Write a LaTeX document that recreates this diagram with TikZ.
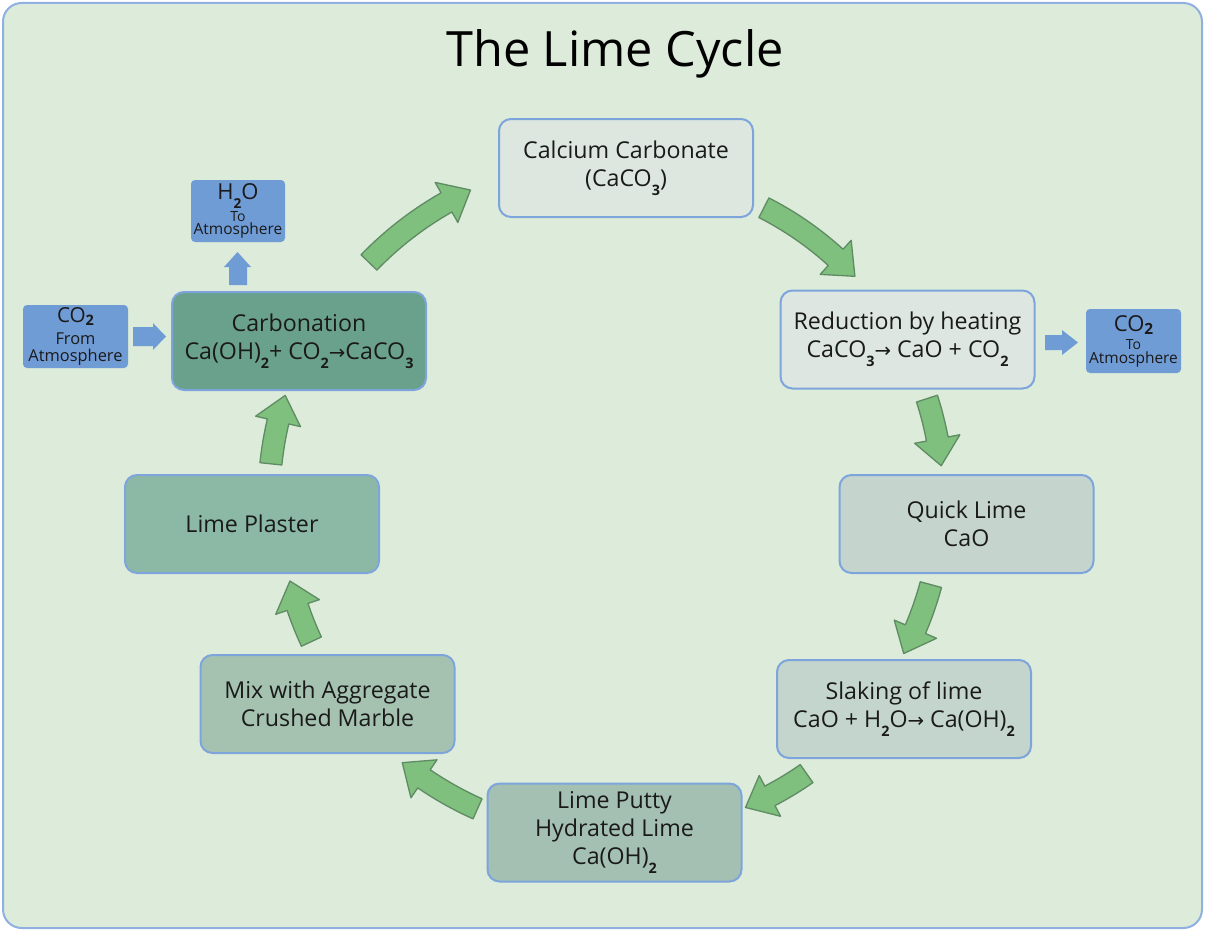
\documentclass[tikz,border=0pt]{standalone}
\usepackage{fontspec}
\setmainfont{Open Sans}
\newfontfamily\symfont{DejaVu Sans}
\usepackage{graphicx}
\lineskiplimit=-20pt
\definecolor{bgc}{RGB}{220,235,218}
\definecolor{framec}{RGB}{143,176,224}
\definecolor{boxblue}{RGB}{125,165,220}
\definecolor{bblue}{RGB}{112,156,214}
\definecolor{textc}{RGB}{26,26,26}
\definecolor{fcc}{RGB}{221,230,223}
\definecolor{fred}{RGB}{222,230,225}
\definecolor{fql}{RGB}{197,213,206}
\definecolor{fsl}{RGB}{195,213,205}
\definecolor{flp}{RGB}{164,192,178}
\definecolor{fmix}{RGB}{165,194,177}
\definecolor{fpl}{RGB}{140,185,166}
\definecolor{fcar}{RGB}{106,161,140}
\definecolor{garrowfill}{RGB}{128,192,126}
\definecolor{garrowline}{RGB}{96,140,100}
\newcommand\chsub[1]{\raisebox{-0.75ex}{\scalebox{0.62}{\bfseries #1}}}
\newcommand\chsubb[1]{\raisebox{-0.25ex}{\scalebox{0.7}{\bfseries #1}}}
\newcommand\chto{{\symfont\scalebox{0.85}{→}}}
\newcommand\cyclearrow[3]{%
  \pgfmathsetmacro\caH{27/#1*57.2958}%
  \pgfmathsetmacro\caB{#3-\caH}%
  \pgfmathsetmacro\caRo{#1+11}%
  \pgfmathsetmacro\caRi{#1-11}%
  \pgfmathsetmacro\caHo{#1+23}%
  \pgfmathsetmacro\caHi{#1-23}%
  \draw[garrow] ([shift={(cyc)}]#2:\caRo) arc[start angle=#2, end angle=\caB, radius=\caRo]
    -- ([shift={(cyc)}]\caB:\caHo) -- ([shift={(cyc)}]#3:#1) -- ([shift={(cyc)}]\caB:\caHi)
    -- ([shift={(cyc)}]\caB:\caRi) arc[start angle=\caB, end angle=#2, radius=\caRi] -- cycle;
}
\tikzset{
  stagebox/.style={draw=boxblue, line width=1.5pt, rounded corners=9pt,
    minimum width=190.5pt, minimum height=73.5pt, align=center, text=textc,
    font=\fontsize{17.4}{21}\selectfont, inner sep=0pt},
  bluebox/.style={fill=bblue, rounded corners=3pt, inner sep=0pt, align=center, text=textc},
  garrow/.style={fill=garrowfill, draw=garrowline, line width=1pt, line join=round},
  blockarrow/.style={fill=bblue},
}
\begin{document}
\begin{tikzpicture}[x=0.75pt, y=-0.75pt]
\useasboundingbox (0,0) rectangle (1205,931);
\draw[fill=bgc, draw=framec, line width=1.5pt, rounded corners=14pt] (3,3) rectangle (1202,928);
\node[text=black, font=\fontsize{36.5}{40}\selectfont] (title) at (615,54) {The Lime Cycle};

\node[stagebox, fill=fcc] (cc) at (626,168) {Calcium Carbonate\\(CaCO\chsub{3})};
\node[stagebox, fill=fred] (red) at (907.5,339.5) {Reduction by heating\\CaCO\chsub{3}\chto{} CaO + CO\chsub{2}};
\node[stagebox, fill=fql] (ql) at (966.5,524) {Quick Lime\\CaO};
\node[stagebox, fill=fsl] (sl) at (904,709) {Slaking of lime\\CaO + H\chsub{2}O\chto{} Ca(OH)\chsub{2}};
\node[stagebox, fill=flp] (lp) at (614.5,832.5) {Lime Putty\\Hydrated Lime\\Ca(OH)\chsub{2}};
\node[stagebox, fill=fmix] (mix) at (327.5,704) {Mix with Aggregate\\Crushed Marble};
\node[stagebox, fill=fpl] (pl) at (252,524) {Lime Plaster};
\node[stagebox, fill=fcar] (car) at (299,341) {Carbonation\\Ca(OH)\chsub{2}+ CO\chsub{2}\chto CaCO\chsub{3}};

\node[bluebox, minimum width=78.75pt, minimum height=47.25pt,
  font=\fontsize{12.3}{13}\selectfont] (co2in) at (75.5,336.5)
  {{\fontsize{15.5}{13}\selectfont CO\chsubb{2}}\\[3pt]From\\Atmosphere};
\node[bluebox, minimum width=70.5pt, minimum height=46.5pt,
  font=\fontsize{11.6}{10}\selectfont] (h2o) at (238,211)
  {{\fontsize{16.5}{10}\selectfont H\chsub{2}O}\\[6pt]{\fontsize{10.5}{10}\selectfont To}\\Atmosphere};
\node[bluebox, minimum width=71.25pt, minimum height=48pt,
  font=\fontsize{11.6}{10.5}\selectfont] (co2out) at (1133.5,341)
  {{\fontsize{16.5}{10.5}\selectfont CO\chsubb{2}}\\[3pt]{\fontsize{10.5}{10.5}\selectfont To}\\Atmosphere};

\fill[blockarrow] (133,327) -- (153,327) -- (153,323) -- (166,336.5) -- (153,350) -- (153,346) -- (133,346) -- cycle;
\fill[blockarrow] (229,285) -- (229,267) -- (224,267) -- (237.5,252) -- (251,267) -- (247,267) -- (247,285) -- cycle;
\fill[blockarrow] (1045,335) -- (1062,335) -- (1062,330) -- (1078,342.5) -- (1062,355) -- (1062,350) -- (1045,350) -- cycle;

\coordinate (cyc) at (615,500);
\cyclearrow{342}{224}{245}
\cyclearrow{328}{297}{317}
\cyclearrow{328}{342}{354}
\cyclearrow{327}{15}{28}
\cyclearrow{334}{55}{67}
\cyclearrow{338}{114}{129}
\cyclearrow{335}{155}{166}
\cyclearrow{346}{186}{197.6}
\end{tikzpicture}
\end{document}
